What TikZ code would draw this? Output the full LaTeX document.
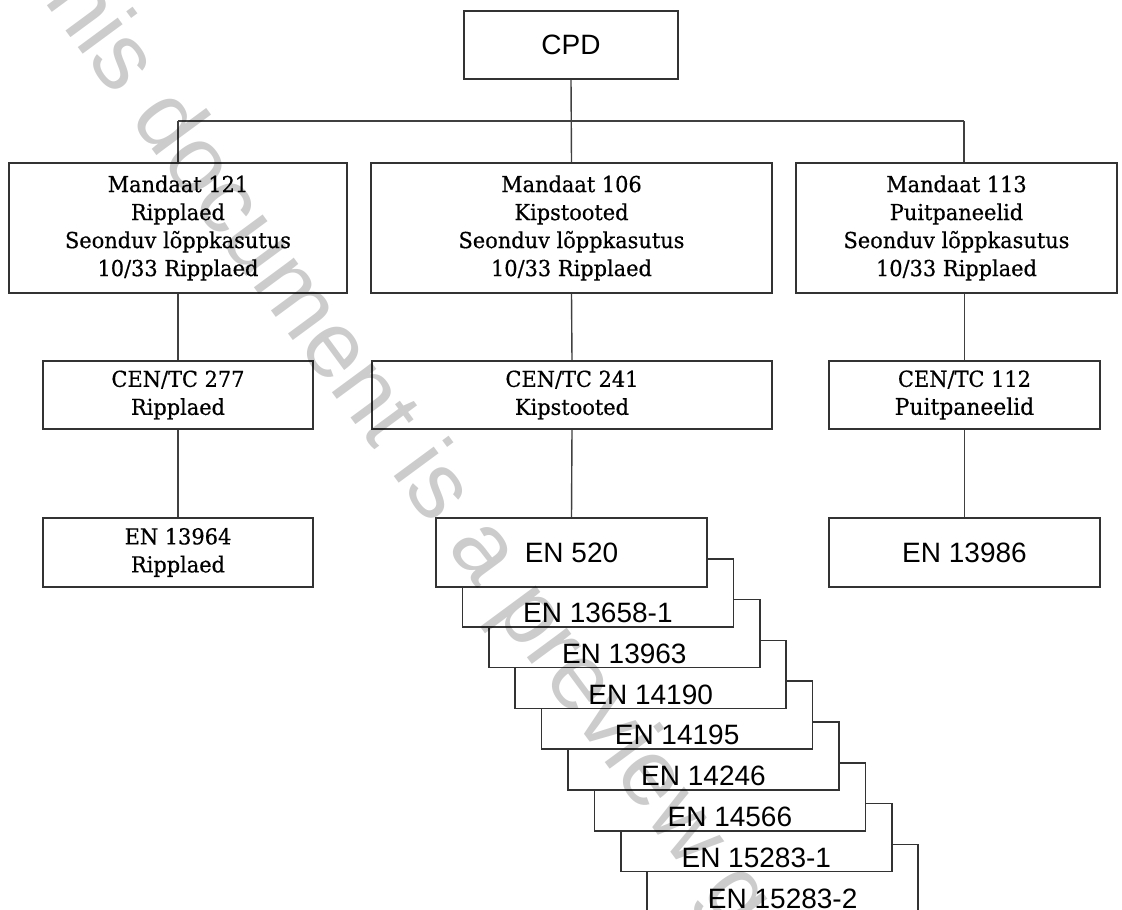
\documentclass[tikz,border=0pt]{standalone}
\usepackage{fontspec}
\setmainfont{DejaVu Serif}[FakeStretch=0.95, FakeBold=0.5]
\setsansfont{Liberation Sans}
\newfontfamily\wmfont{Liberation Sans}
\usepackage{tikz}

\tikzset{
  box/.style={draw=black!80, line width=1.6pt, fill=white, align=center, inner sep=0pt},
  mbox/.style={box, minimum height=130pt, font=\fontsize{22}{28}\selectfont},
  tcbox/.style={box, minimum height=68pt, font=\fontsize{22}{28}\selectfont},
  enbox/.style={box, minimum width=271pt, minimum height=68pt, font=\sffamily\fontsize{28}{32}\selectfont},
  link/.style={draw=black!75, line width=1.4pt},
}

\begin{document}
\begin{tikzpicture}[x=1pt, y=-1pt]
    \useasboundingbox (0,0) rectangle (1122,910);

    % Nodes
    \node[enbox, minimum width=214pt] (cpd) at (571, 45) {CPD};

    \node[mbox, minimum width=338pt] (m121) at (178, 228)
        {Mandaat 121\\Ripplaed\\Seonduv lõppkasutus\\10/33 Ripplaed};
    \node[mbox, minimum width=401pt] (m106) at (571.5, 228)
        {Mandaat 106\\Kipstooted\\Seonduv lõppkasutus\\10/33 Ripplaed};
    \node[mbox, minimum width=321pt] (m113) at (956.5, 228)
        {Mandaat 113\\Puitpaneelid\\Seonduv lõppkasutus\\10/33 Ripplaed};

    \node[tcbox, minimum width=270pt] (c277) at (178, 395) {CEN/TC 277\\Ripplaed};
    \node[tcbox, minimum width=400pt] (c241) at (572, 395) {CEN/TC 241\\Kipstooted};
    \node[tcbox, minimum width=271pt] (c112) at (964.5, 395)
        {CEN/TC 112\\{\fontsize{23}{28}\selectfont Puitpaneelid}};

    \node[tcbox, minimum width=270pt, minimum height=69pt] (e13964) at (178, 552.5) {EN 13964\\Ripplaed};
    \node[enbox, minimum height=69pt] (e13986) at (964.5, 552.5) {EN 13986};

    % Stacked standards, drawn back to front
    \foreach \i/\lbl in {8/EN 15283-2, 7/EN 15283-1, 6/EN 14566, 5/EN 14246,
                         4/EN 14195, 3/EN 14190, 2/EN 13963, 1/EN 13658-1}
      \node[enbox, label={[yshift=-20pt, font=\sffamily\fontsize{28}{32}\selectfont]center:\lbl}]
        (en\i) at (571.5+26.4*\i, 552+40.8*\i) {};
    \node[enbox, minimum height=69pt] (en0) at (571.5, 552.5) {EN 520};

    % Connectors
    \coordinate (bus1) at (178, 121);
    \coordinate (bus3) at (964, 121);
    \draw[link] (bus1) -- (bus3);
    \draw[link] (cpd.south) -- (m106.north);
    \draw[link] (bus1) -- (m121.north);
    \draw[link] (bus3) -- (bus3 |- m113.north);
    \draw[link] (m121.south) -- (c277.north);
    \draw[link] (m106.south) -- (c241.north);
    \draw[link] (c112.north |- m113.south) -- (c112.north);
    \draw[link] (c277.south) -- (e13964.north);
    \draw[link] (c241.south) -- (en0.north);
    \draw[link] (c112.south) -- (e13986.north);

    % Watermark
    \node[anchor=base west, rotate=-53.6, text=black, text opacity=0.2,
          font=\wmfont\fontsize{94}{94}\selectfont, inner sep=0pt] (wm) at (9, -46)
        {This document is a preview generated by EVS};
\end{tikzpicture}
\end{document}
